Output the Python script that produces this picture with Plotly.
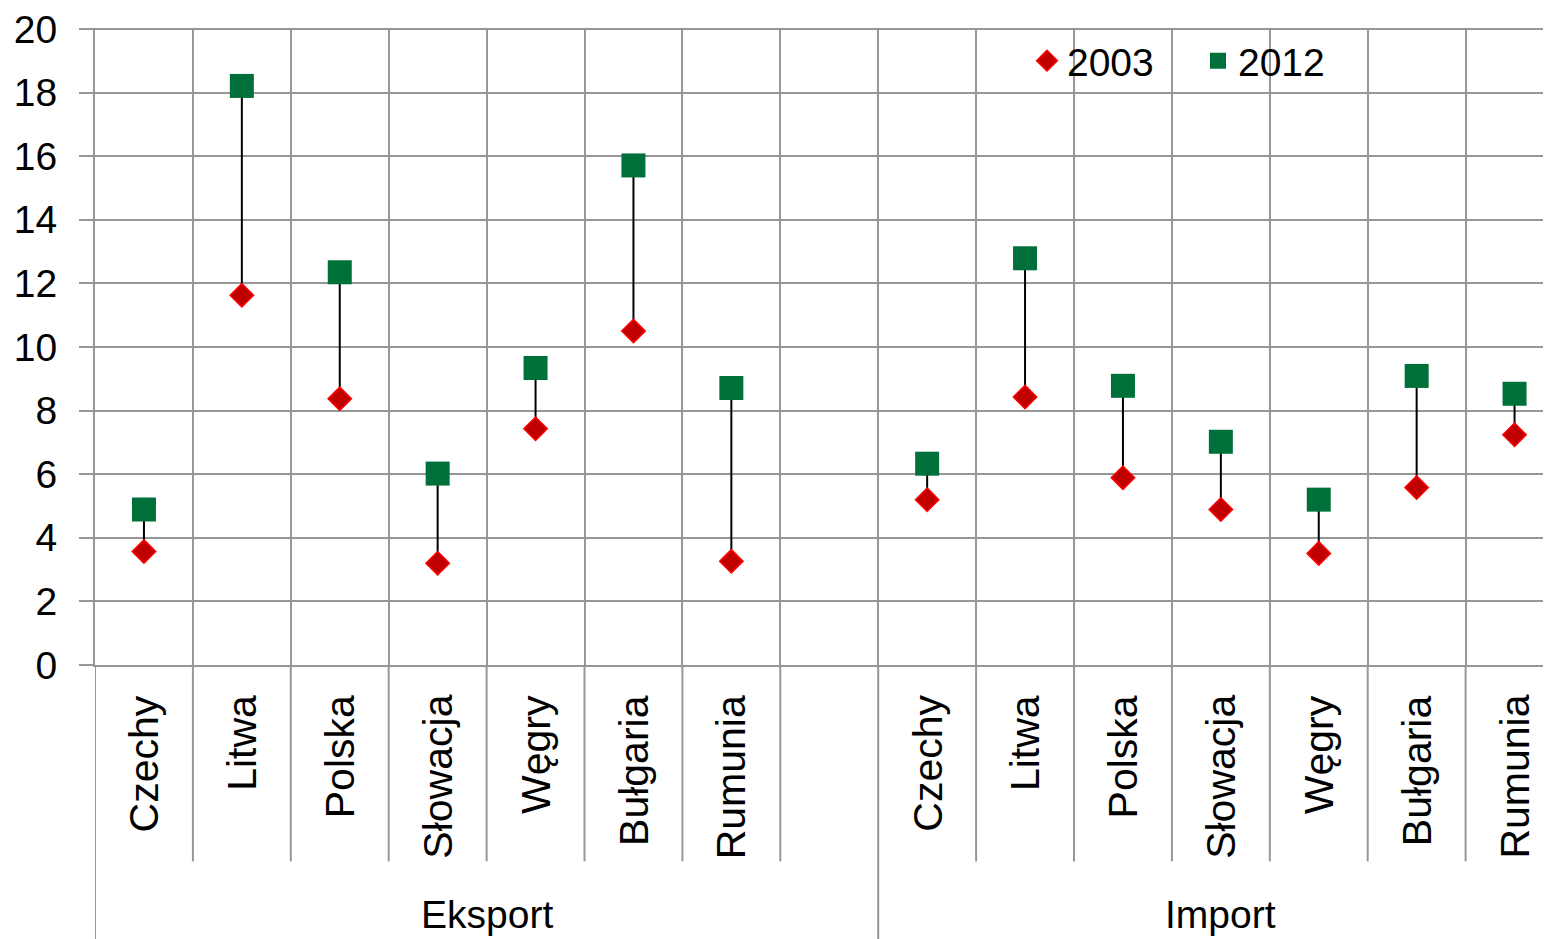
import plotly.graph_objects as go

countries = ["Czechy", "Litwa", "Polska", "Słowacja", "Węgry", "Bułgaria", "Rumunia"]
groups = ["Eksport", "Import"]
export_2003 = [3.57, 11.63, 8.37, 3.2, 7.43, 10.5, 3.26]
export_2012 = [4.89, 18.21, 12.35, 6.02, 9.34, 15.71, 8.71]
import_2003 = [5.2, 8.43, 5.89, 4.89, 3.51, 5.58, 7.24]
import_2012 = [6.33, 12.79, 8.78, 7.02, 5.2, 9.09, 8.53]
y_ticks = [0, 2, 4, 6, 8, 10, 12, 14, 16, 18, 20]

FONT = "Liberation Sans, Arial, sans-serif"
GRID = "#979797"
RED_FILL = "#C00000"
RED_LINE = "#FF0000"
GREEN = "#00703A"

n = len(countries)
# slot positions: export 0..6, blank slot 7, import 8..14
slots_exp = list(range(n))
slots_imp = [n + 1 + i for i in range(n)]
xs = slots_exp + slots_imp
v2003 = export_2003 + import_2003
v2012 = export_2012 + import_2012
n_slots = 2 * n + 1

fig = go.Figure()

# connector lines
lx, ly = [], []
for x, a, b in zip(xs, v2003, v2012):
    lx += [x, x, None]
    ly += [a, b, None]
fig.add_trace(go.Scatter(x=lx, y=ly, mode="lines", line=dict(color="black", width=2),
                         showlegend=False, hoverinfo="skip"))

fig.add_trace(go.Scatter(x=xs, y=v2003, mode="markers", name="2003",
                         marker=dict(symbol="diamond", size=18, color=RED_FILL,
                                     line=dict(color=RED_LINE, width=1.5))))
fig.add_trace(go.Scatter(x=xs, y=v2012, mode="markers", name="2012",
                         marker=dict(symbol="square", size=24, color=GREEN,
                                     line=dict(width=0))))

# page has an 8px body margin; figure coordinates are offset accordingly
W, H = 1551, 939
L, T = 87, 19
axis_bottom = 657
B = H - axis_bottom
slot_w = 97.9
plot_h = axis_bottom - T
x_right = -0.5 + (W - L) / slot_w

boundaries = [i - 0.5 for i in range(n_slots + 1)]
group_bounds = {-0.5, n + 0.5, n_slots - 0.5}

shapes = [dict(type="line", xref="paper", yref="paper", x0=-14 / (W - L), x1=1, y0=1, y1=1,
               line=dict(color=GRID, width=2), layer="below")]
for b in boundaries:
    y_end = -282 / plot_h if b in group_bounds else -197 / plot_h
    shapes.append(dict(type="line", xref="x", yref="paper", x0=b, x1=b, y0=0, y1=y_end,
                       line=dict(color=GRID, width=2), layer="below"))

annotations = []
for x, c in zip(xs, countries + countries):
    annotations.append(dict(x=x, y=0, xref="x", yref="paper", text=c, textangle=-90,
                            showarrow=False, xanchor="center", yanchor="top", yshift=-28,
                            font=dict(family=FONT, size=41, color="black")))
group_centers = [(-0.5 + n + 0.5) / 2, (n + 0.5 + n_slots - 0.5) / 2]
for gx, g in zip(group_centers, groups):
    annotations.append(dict(x=gx, y=-(907 - axis_bottom) / plot_h, xref="x", yref="paper", text=g,
                            showarrow=False, xanchor="center", yanchor="middle",
                            font=dict(family=FONT, size=39, color="black")))

fig.update_layout(
    width=W, height=H,
    margin=dict(l=L, r=0, t=T, b=B, pad=0),
    paper_bgcolor="white", plot_bgcolor="white",
    font=dict(family=FONT, size=39, color="black"),
    showlegend=True,
    legend=dict(orientation="h", x=0.6366, y=0.95, xanchor="left", yanchor="middle",
                font=dict(family=FONT, size=39, color="black"),
                bgcolor="rgba(0,0,0,0)", itemsizing="trace", entrywidth=126,
                tracegroupgap=0),
    xaxis=dict(range=[-0.5, x_right], tickvals=boundaries, ticktext=[""] * len(boundaries),
               showgrid=True, gridcolor=GRID, gridwidth=2, showline=True, linecolor=GRID,
               linewidth=2, ticks="", zeroline=False, fixedrange=True),
    yaxis=dict(range=[0, 20], tickvals=y_ticks, showgrid=True, gridcolor=GRID, gridwidth=2,
               showline=True, linecolor=GRID, linewidth=2, ticks="outside", ticklen=14,
               tickcolor=GRID, tickwidth=2, zeroline=False, ticklabelstandoff=14,
               ticklabeloverflow="allow",
               tickfont=dict(family=FONT, size=39, color="black")),
    shapes=shapes,
    annotations=annotations,
)

fig.write_html("out.html")
